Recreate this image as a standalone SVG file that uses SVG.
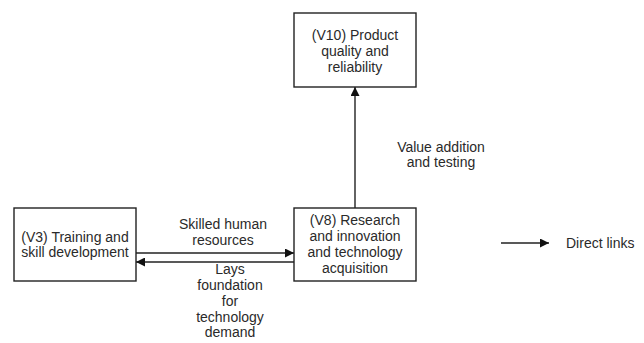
<svg xmlns="http://www.w3.org/2000/svg" width="644" height="343" viewBox="0 0 644 343">
  <style>
    .box { fill: #ffffff; stroke: #222222; stroke-width: 1.4; }
    .lbl { font-family: "Liberation Sans", Arial, sans-serif; font-size: 14px; fill: #2a2a2a; text-anchor: middle; }
    .link { stroke: #222222; stroke-width: 1.4; fill: none; }
  </style>
  <defs>
    <marker id="arrow" viewBox="0 0 10 10" refX="10" refY="5" markerWidth="9" markerHeight="9" markerUnits="userSpaceOnUse" orient="auto">
      <path d="M0,0 L10,5 L0,10 Z" fill="#111111"/>
    </marker>
  </defs>
  <rect width="644" height="343" fill="#ffffff"/>

  <g id="connectors">
    <line class="link" x1="136" y1="253" x2="294" y2="253" marker-end="url(#arrow)"/>
    <line class="link" x1="294" y1="262" x2="136" y2="262" marker-end="url(#arrow)"/>
    <line class="link" x1="355" y1="208" x2="355" y2="87" marker-end="url(#arrow)"/>
    <text class="lbl" x="223" y="229">Skilled human</text>
    <text class="lbl" x="223" y="245">resources</text>
    <text class="lbl" x="230" y="274">Lays</text>
    <text class="lbl" x="230" y="290">foundation</text>
    <text class="lbl" x="230" y="306">for</text>
    <text class="lbl" x="230" y="322">technology</text>
    <text class="lbl" x="230" y="337">demand</text>
    <text class="lbl" x="441" y="152">Value addition</text>
    <text class="lbl" x="441" y="167">and testing</text>
  </g>

  <g id="v10">
    <rect class="box" x="294" y="13" width="122" height="74"/>
    <text class="lbl" x="355" y="40">(V10) Product</text>
    <text class="lbl" x="355" y="56">quality and</text>
    <text class="lbl" x="355" y="72">reliability</text>
  </g>

  <g id="v3">
    <rect class="box" x="14" y="208" width="122" height="73"/>
    <text class="lbl" x="75" y="242">(V3) Training and</text>
    <text class="lbl" x="75" y="257">skill development</text>
  </g>

  <g id="v8">
    <rect class="box" x="294" y="208" width="122" height="73"/>
    <text class="lbl" x="355" y="225">(V8) Research</text>
    <text class="lbl" x="355" y="241">and innovation</text>
    <text class="lbl" x="355" y="257">and technology</text>
    <text class="lbl" x="355" y="273">acquisition</text>
  </g>

  <g id="legend">
    <line class="link" x1="501" y1="243" x2="549" y2="243" marker-end="url(#arrow)"/>
    <text class="lbl" x="566" y="248" style="text-anchor: start">Direct links</text>
  </g>
</svg>
